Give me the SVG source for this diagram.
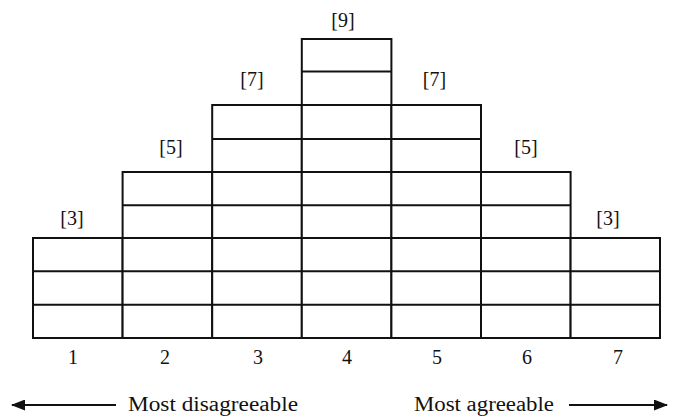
<svg xmlns="http://www.w3.org/2000/svg" width="676" height="418" viewBox="0 0 676 418">
<style>
.c{fill:#fff;stroke:#111;stroke-width:2}
.l{stroke:#111;stroke-width:2;fill:none}
.t{font-family:"Liberation Serif",serif;font-size:20px;fill:#111;text-anchor:middle}
</style>
<defs>
<marker id="ah" viewBox="0 0 14 11" refX="13" refY="5.5" markerWidth="14" markerHeight="11" markerUnits="userSpaceOnUse" orient="auto">
<path d="M0,0 L14,5.5 L0,11 Z" fill="#111"/>
</marker>
</defs>
<rect width="676" height="418" fill="#fff"/>
<g id="col1">
<rect class="c" x="33" y="238" width="89.6" height="100"/>
<path class="l" d="M33 271.3H122.6M33 304.7H122.6"/>
<text class="t" x="72" y="225">[3]</text>
<text class="t" x="73" y="364">1</text>
</g>
<g id="col2">
<rect class="c" x="122.6" y="172" width="89.6" height="166"/>
<path class="l" d="M122.6 205.2H212.2M122.6 238H212.2M122.6 271.3H212.2M122.6 304.7H212.2"/>
<text class="t" x="171" y="154">[5]</text>
<text class="t" x="165" y="364">2</text>
</g>
<g id="col3">
<rect class="c" x="212.2" y="105" width="89.6" height="233"/>
<path class="l" d="M212.2 139H301.8M212.2 172H301.8M212.2 205.2H301.8M212.2 238H301.8M212.2 271.3H301.8M212.2 304.7H301.8"/>
<text class="t" x="252" y="86">[7]</text>
<text class="t" x="258" y="364">3</text>
</g>
<g id="col4">
<rect class="c" x="301.8" y="39" width="89.6" height="299"/>
<path class="l" d="M301.8 71.5H391.4M301.8 105H391.4M301.8 139H391.4M301.8 172H391.4M301.8 205.2H391.4M301.8 238H391.4M301.8 271.3H391.4M301.8 304.7H391.4"/>
<text class="t" x="343" y="27">[9]</text>
<text class="t" x="347" y="364">4</text>
</g>
<g id="col5">
<rect class="c" x="391.4" y="105" width="89.6" height="233"/>
<path class="l" d="M391.4 139H481M391.4 172H481M391.4 205.2H481M391.4 238H481M391.4 271.3H481M391.4 304.7H481"/>
<text class="t" x="434.5" y="86">[7]</text>
<text class="t" x="437" y="364">5</text>
</g>
<g id="col6">
<rect class="c" x="481" y="172" width="89.6" height="166"/>
<path class="l" d="M481 205.2H570.6M481 238H570.6M481 271.3H570.6M481 304.7H570.6"/>
<text class="t" x="526" y="154">[5]</text>
<text class="t" x="527" y="364">6</text>
</g>
<g id="col7">
<rect class="c" x="570.6" y="238" width="89.4" height="100"/>
<path class="l" d="M570.6 271.3H660M570.6 304.7H660"/>
<text class="t" x="608" y="225">[3]</text>
<text class="t" x="618" y="364">7</text>
</g>
<g id="connectors">
<line class="l" x1="116" y1="405" x2="12" y2="405" marker-end="url(#ah)"/>
<line class="l" x1="569" y1="405" x2="667" y2="405" marker-end="url(#ah)"/>
</g>
<g id="labels">
<text class="t" x="213" y="411" textLength="170" lengthAdjust="spacingAndGlyphs">Most disagreeable</text>
<text class="t" x="484" y="411" textLength="140" lengthAdjust="spacingAndGlyphs">Most agreeable</text>
</g>
</svg>
